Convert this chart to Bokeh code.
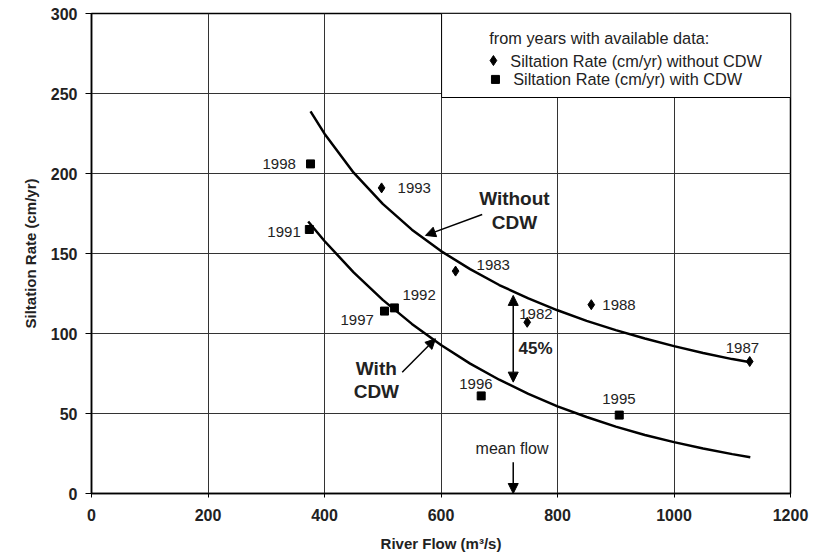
from bokeh.plotting import figure
from bokeh.models import Range1d, Arrow, NormalHead, FixedTicker, ColumnDataSource
from bokeh.core.properties import value
from bokeh.embed import file_html
from bokeh.resources import INLINE

FONT = "Liberation Sans"

# ---- data ----
without_years = ["1993", "1983", "1982", "1988", "1987"]
without_flow = [498, 625, 748, 858, 1130]
without_rate = [191, 139, 107, 118, 82.5]

with_years = ["1998", "1991", "1992", "1997", "1996", "1995"]
with_flow = [376, 374, 520, 503, 669, 906]
with_rate = [206, 165, 116, 114, 61, 49]

# trend curves
curve_without_flow = [376, 400, 450, 500, 550, 600, 650, 700, 750, 800, 850, 900, 950, 1000, 1050, 1100, 1131]
curve_without_rate = [238.8, 224.9, 200.5, 181.0, 164.9, 151.5, 140.2, 130.3, 121.9, 114.5, 107.9, 102.1, 96.9, 92.1, 87.8, 84.0, 82.0]
curve_with_flow = [372, 400, 450, 500, 550, 600, 650, 700, 750, 800, 850, 900, 950, 1000, 1050, 1100, 1131]
curve_with_rate = [170.0, 157.8, 138.2, 121.0, 106.0, 92.8, 81.2, 71.1, 62.3, 54.5, 47.8, 41.8, 36.6, 32.1, 28.1, 24.6, 22.7]

mean_flow = 724
gap_top = 123.8
gap_bottom = 69.6
gap_label = "45%"

x_ticks = [0, 200, 400, 600, 800, 1000, 1200]
y_ticks = [0, 50, 100, 150, 200, 250, 300]

# label offsets (pixels) for year labels
without_dx = [16, 21, -8, 11, -24]
without_dy = [0, -6, -8, 0, -14]
with_dx = [-48, -42, 8, -44, -22, -17]
with_dy = [0, 2, -13, 9, -12, -16]

p = figure(frame_width=699, frame_height=480,
           x_range=Range1d(0, 1200), y_range=Range1d(0, 300),
           output_backend="svg", toolbar_location=None,
           min_border_left=91, min_border_right=25, min_border_top=13, min_border_bottom=58,
           background_fill_color="white", border_fill_color="white")

p.outline_line_color = "black"
p.outline_line_width = 1.5

for ax in (p.xaxis[0], p.yaxis[0]):
    ax.axis_line_color = "black"
    ax.axis_line_width = 1.5
    ax.major_tick_line_color = "black"
    ax.minor_tick_line_color = None
    ax.major_tick_in = 0
    ax.major_label_text_font = FONT
    ax.major_label_text_font_style = "bold"
    ax.major_label_text_font_size = "16px"
    ax.major_label_text_color = "#222222"
    ax.axis_label_text_font = FONT
    ax.axis_label_text_font_style = "bold"
    ax.axis_label_text_font_size = "15px"
    ax.axis_label_text_color = "#222222"

p.xaxis.ticker = FixedTicker(ticks=x_ticks)
p.yaxis.ticker = FixedTicker(ticks=y_ticks)
p.xaxis.major_tick_out = 4
p.yaxis.major_tick_out = 6
p.xaxis.major_label_standoff = 11
p.yaxis.major_label_standoff = 8
p.xaxis.axis_label = "River Flow (m\u00b3/s)"
p.yaxis.axis_label = "Siltation Rate (cm/yr)"
p.xaxis.axis_label_standoff = 11
p.yaxis.axis_label_standoff = 9

p.grid.grid_line_color = "#333333"
p.grid.grid_line_width = 1
p.xgrid.ticker = FixedTicker(ticks=x_ticks)
p.ygrid.ticker = FixedTicker(ticks=y_ticks)

# curves
p.line(curve_without_flow, curve_without_rate, line_color="black", line_width=2.5)
p.line(curve_with_flow, curve_with_rate, line_color="black", line_width=2.5)

# points
src_wo = ColumnDataSource(dict(x=without_flow, y=without_rate, t=without_years, dx=without_dx, dy=without_dy))
src_w = ColumnDataSource(dict(x=with_flow, y=with_rate, t=with_years, dx=with_dx, dy=with_dy))
p.scatter("x", "y", source=src_wo, marker="diamond", size=10, color="black")
p.scatter("x", "y", source=src_w, marker="square", size=8, color="black")
for s in (src_wo, src_w):
    p.text("x", "y", text="t", source=s, x_offset="dx", y_offset="dy",
           text_font=value(FONT), text_font_size="15px", text_align="left",
           text_baseline="middle", text_color="#222222")

# legend box
p.quad(left=[601], right=[1200], bottom=[247.5], top=[300], fill_color="white",
       line_color="black", line_width=1)
p.text(x=[683], y=[284.4], text=["from years with available data:"], text_font=value(FONT),
       text_font_size="16.3px", text_baseline="middle", text_color="#222222")
p.scatter(x=[690], y=[270.6], marker="diamond", size=10, color="black")
p.scatter(x=[693.5], y=[258.8], marker="square", size=8, color="black")
p.text(x=[719, 724], y=[270.6, 258.8],
       text=["Siltation Rate (cm/yr) without CDW", "Siltation Rate (cm/yr) with CDW"],
       text_font=value(FONT), text_font_size="16.3px", text_baseline="middle", text_color="#222222")

# annotations
p.text(x=[726, 726], y=[184.4, 169.4], text=["Without", "CDW"], text_font=value(FONT),
       text_font_size="19px", text_font_style="bold", text_align="center",
       text_baseline="middle", text_color="#222222")
p.text(x=[489, 489], y=[78.1, 63.8], text=["With", "CDW"], text_font=value(FONT),
       text_font_size="19px", text_font_style="bold", text_align="center",
       text_baseline="middle", text_color="#222222")
p.text(x=[733], y=[90.9], text=[gap_label], text_font=value(FONT),
       text_font_size="17px", text_font_style="bold", text_align="left",
       text_baseline="middle", text_color="#222222")
p.text(x=[722], y=[28.1], text=["mean flow"], text_font=value(FONT),
       text_font_size="16px", text_align="center", text_baseline="middle", text_color="#222222")

def head():
    return NormalHead(size=10, fill_color="black", line_color="black")

p.add_layout(Arrow(end=head(), x_start=670.7, y_start=174.4, x_end=573.4, y_end=161.3,
                   line_width=1.5, line_color="black"))
p.add_layout(Arrow(end=head(), x_start=533.4, y_start=75.8, x_end=590.5, y_end=96.7,
                   line_width=1.5, line_color="black"))
p.add_layout(Arrow(start=head(), end=head(), x_start=mean_flow, y_start=gap_bottom,
                   x_end=mean_flow, y_end=gap_top, line_width=1.5, line_color="black"))
p.add_layout(Arrow(end=head(), x_start=mean_flow, y_start=19.6, x_end=mean_flow, y_end=0,
                   line_width=1.5, line_color="black"))

open("out.html", "w").write(file_html(p, INLINE))
